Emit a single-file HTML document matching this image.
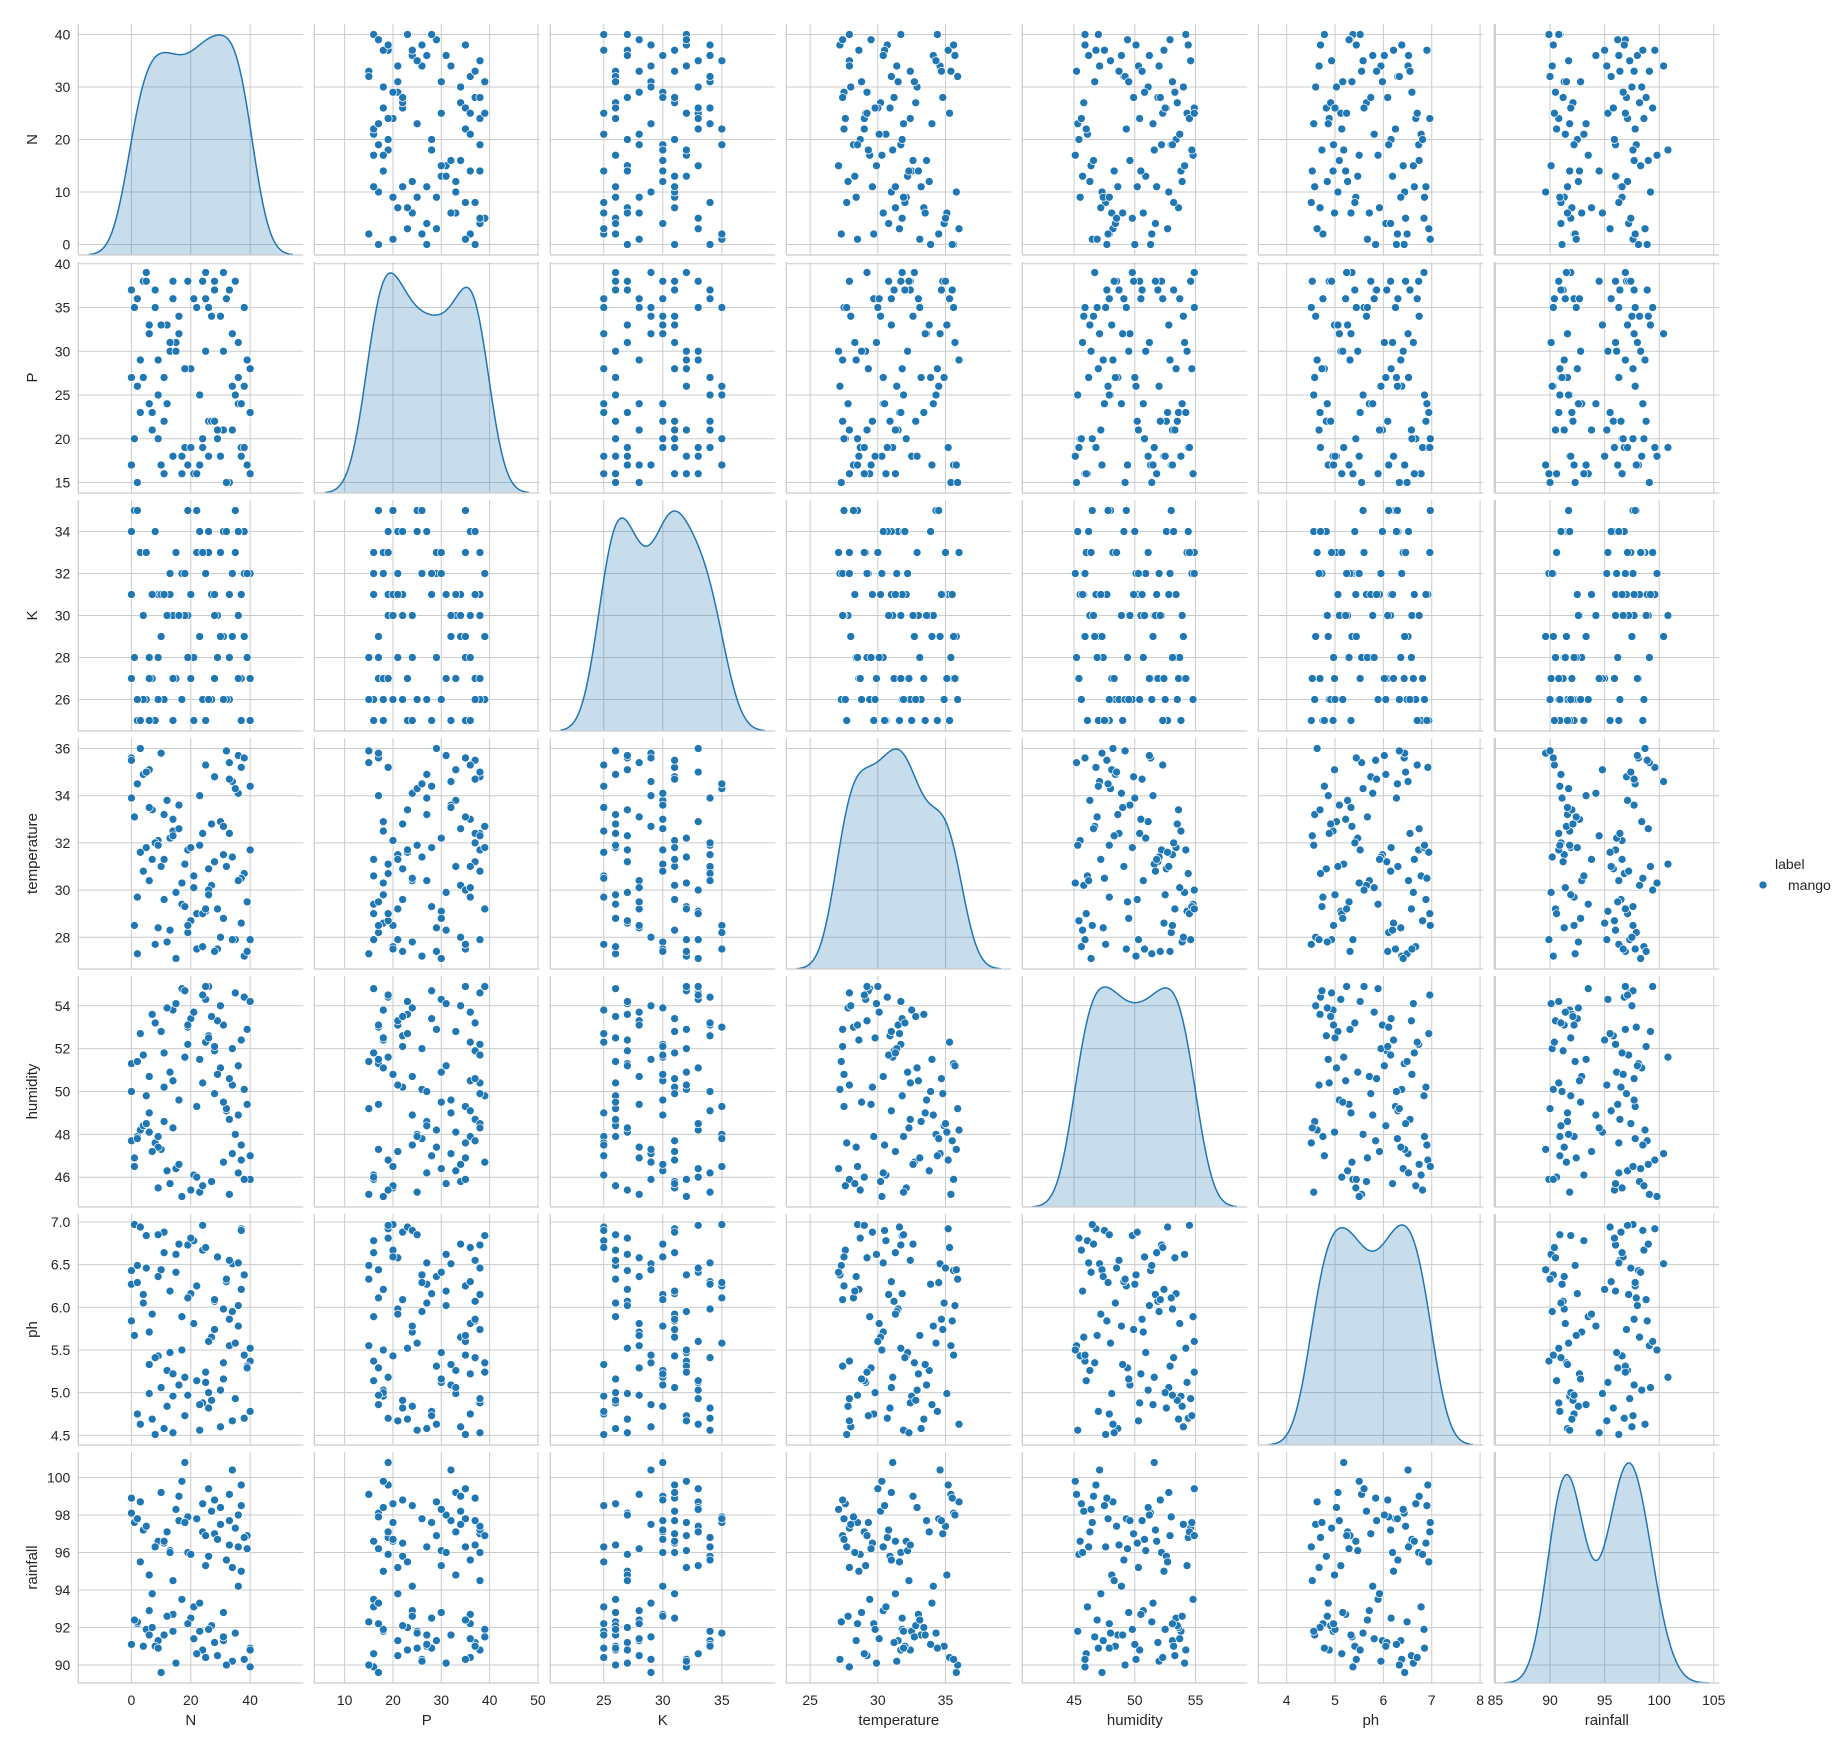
<!DOCTYPE html>
<html><head><meta charset="utf-8"><style>
html,body{margin:0;padding:0;background:#fff;}
svg{display:block;font-family:"Liberation Sans",Arial,sans-serif;}
</style></head><body>
<svg id="chart" width="1842" height="1750" viewBox="0 0 1842 1750" xmlns="http://www.w3.org/2000/svg">
<rect x="0" y="0" width="1842" height="1750" fill="#fff"/>
<g>
<text x="1775" y="869" font-size="14" fill="#262626">label</text>
<circle cx="1763" cy="885" r="4" fill="#1f77b4" stroke="#fff" stroke-width="0.7"/>
<text x="1788" y="890" font-size="14" fill="#262626">mango</text>
</g>
</svg>
<script>
const varNames = ["N","P","K","temperature","humidity","ph","rainfall"];
const nVals = [2,31,0,40,19,11,25,37,6,22,14,34,9,28,3,17,38,12,26,5,33,20,8,30,15,36,1,24,39,10,27,7,32,18,4,35,21,13,29,0,23,37,16,2,26,40,11,31,19,6,34,24,14,38,9,28,3,22,36,12,33,17,0,30,7,25,39,15,27,4,35,20,10,32,18,1,29,8,37,23,13,40,5,26,16,34,21,2,31,11,38,24,14,28,6,36,19,33,9,25];
const pVals = [36,21,17,16,38,27,30,19,24,35,18,32,20,37,29,16,26,33,22,39,15,28,35,18,31,24,20,38,29,17,34,23,36,19,27,38,16,30,21,37,25,18,32,15,35,28,22,39,17,33,26,20,36,19,29,38,23,16,31,24,37,18,27,34,21,36,17,30,22,38,25,19,33,15,28,35,20,37,24,17,31,23,38,18,34,21,36,26,30,16,35,19,38,22,32,27,17,37,25,39];
const kVals = [25,34,27,32,30,26,33,31,28,35,25,29,31,27,33,26,32,30,34,26,28,31,25,33,27,30,35,26,32,29,31,27,34,30,26,33,25,32,28,31,34,27,30,26,33,25,31,29,35,27,32,26,30,34,28,31,25,33,27,30,26,32,34,29,31,25,28,33,26,30,35,27,31,26,32,28,30,34,25,29,31,27,33,26,30,32,28,35,26,31,29,33,27,30,25,34,28,31,26,32];
const tempVals = [29.7,31.5,35.6,27.9,31.7,33.2,29.1,35.2,30.4,27.5,32.5,34.6,32.1,31.2,36.0,29.4,27.2,33.8,30.9,31.8,35.4,31.8,27.7,32.9,29.9,34.1,28.5,32.4,27.4,35.8,30.2,33.4,31.0,31.1,34.9,27.9,30.6,32.2,29.2,35.5,31.9,28.6,33.6,27.3,30.0,34.4,29.6,32.7,28.2,35.1,31.4,27.6,33.0,30.7,28.4,34.8,31.6,29.0,35.7,27.8,32.4,30.3,33.9,28.0,31.3,35.3,29.5,27.1,32.8,30.8,34.3,28.7,31.0,35.9,29.3,33.1,27.5,32.0,30.5,34.0,28.3,31.7,35.0,29.8,32.6,27.9,30.1,34.5,28.8,31.3,35.6,29.0,32.3,27.4,33.5,30.4,28.5,34.7,31.9,29.2];
const humVals = [47.9,53.1,51.3,45.9,52.2,48.6,54.3,46.8,50.7,49.3,53.8,47.1,45.5,51.9,48.2,54.8,50.1,46.3,52.6,49.8,45.2,53.4,47.6,51.1,54.1,48.9,46.5,50.4,52.9,47.3,45.8,53.6,49.1,51.6,48.4,54.6,46.1,50.9,53.3,47.7,45.3,52.4,49.6,51.4,54.9,47.0,50.2,46.7,53.0,48.1,52.0,45.6,50.5,54.4,47.4,49.9,52.7,46.0,51.2,53.9,48.7,45.1,50.0,54.0,47.2,52.3,49.4,46.4,53.5,51.7,48.0,45.4,52.8,49.2,54.7,46.9,50.8,53.2,47.5,51.5,45.7,54.2,48.5,52.5,46.6,50.3,53.7,47.8,49.5,51.8,45.9,54.5,48.3,52.1,49.0,46.2,53.1,50.6,47.9,54.9];
const phVals = [4.75,5.98,6.43,5.37,6.73,4.58,5.12,6.92,5.71,6.25,4.96,6.51,5.43,6.07,4.63,5.89,6.38,5.26,4.82,6.84,5.55,6.16,4.51,5.03,6.62,5.78,6.97,4.88,5.31,6.44,5.65,4.69,6.30,5.18,6.05,4.93,6.78,5.47,6.58,5.84,4.56,6.21,5.09,6.49,5.60,4.78,6.88,5.35,6.11,4.99,5.95,6.67,5.22,4.70,6.36,5.74,6.94,5.14,6.02,4.84,6.55,5.50,6.27,4.60,5.92,6.70,5.29,6.41,4.91,6.15,5.58,6.81,5.06,6.33,4.73,5.67,6.59,5.41,6.90,4.86,6.19,5.52,6.46,5.00,6.74,4.67,5.81,6.29,5.16,6.64,5.44,6.96,4.53,6.09,5.33,6.52,4.97,5.86,6.85,5.24];
const rainVals = [92.2,91.3,98.1,89.9,96.0,91.6,95.3,99.6,92.9,97.8,91.8,100.4,96.6,91.2,98.7,93.5,90.3,97.1,95.8,91.9,99.1,92.5,96.3,98.4,90.1,94.2,97.6,90.8,96.9,89.6,98.2,92.0,95.6,100.8,91.0,97.3,93.1,96.1,90.5,98.9,91.8,95.0,97.7,92.3,99.4,90.9,96.5,91.5,97.9,94.8,90.2,98.6,92.7,96.8,91.3,97.0,95.5,90.6,98.0,92.6,96.4,99.8,91.1,97.5,93.8,90.4,96.2,98.3,92.1,97.2,91.7,95.9,99.2,90.0,97.6,92.4,96.7,91.0,98.5,93.3,96.0,90.8,97.4,91.9,99.0,95.2,91.4,97.8,92.8,96.6,90.3,97.1,94.5,98.8,91.6,96.3,92.2,97.7,90.9,96.9];
const seriesList = [nVals,pVals,kVals,tempVals,humVals,phVals,rainVals];
const yTickLabels = [["0","10","20","30","40"],["15","20","25","30","35","40"],["26","28","30","32","34"],["28","30","32","34","36"],["46","48","50","52","54"],["4.5","5.0","5.5","6.0","6.5","7.0"],["90","92","94","96","98","100"]];
const xTickLabels = [["0","20","40"],["10","20","30","40","50"],["25","30","35"],["25","30","35"],["45","50","55"],["4","5","6","7","8"],["85","90","95","100","105"]];

const NS = "http://www.w3.org/2000/svg";
const svg = document.getElementById("chart");
const PL = 78.3, PT = 24, PW = 225, PH = 231, SX = 236, SY = 238;
const K = varNames.length;
function mk(tag, attrs, parent){ const e=document.createElementNS(NS,tag); for(const k in attrs) e.setAttribute(k,attrs[k]); (parent||svg).appendChild(e); return e; }
function stats(a){ const n=a.length; const m=a.reduce((s,v)=>s+v,0)/n; const sd=Math.sqrt(a.reduce((s,v)=>s+(v-m)*(v-m),0)/(n-1)); return {n,m,sd,min:Math.min(...a),max:Math.max(...a)}; }
const st = seriesList.map(stats);
const bws = st.map(s=>s.sd*Math.pow(s.n,-0.2));
const xLim = st.map((s,i)=>{ const lo=s.min-3*bws[i], hi=s.max+3*bws[i], r=hi-lo; return [lo-0.05*r, hi+0.05*r]; });
const yLim = st.map(s=>{ const r=s.max-s.min; return [s.min-0.05*r, s.max+0.05*r]; });
function xScale(j,v){ return PL+j*SX+(v-xLim[j][0])/(xLim[j][1]-xLim[j][0])*PW; }
function yScale(i,v){ return PT+i*SY+PH-(v-yLim[i][0])/(yLim[i][1]-yLim[i][0])*PH; }
const gridC="#cccccc", txtC="#262626";

for(let i=0;i<K;i++){
  for(let j=0;j<K;j++){
    const x0=PL+j*SX, y0=PT+i*SY;
    const g=mk("g",{});
    
    
    xTickLabels[j].forEach(t=>{ const x=xScale(j,parseFloat(t)); if(x<x0-0.5||x>x0+PW+0.5) return;
      const l=mk("line",{x1:x,x2:x,y1:y0,y2:y0+PH,stroke:gridC,"stroke-width":1},g);
      
       });
    yTickLabels[i].forEach(t=>{ const y=yScale(i,parseFloat(t));
      const l=mk("line",{x1:x0,x2:x0+PW,y1:y,y2:y,stroke:gridC,"stroke-width":1},g);
      
       });
    if(i===j){
      const d=seriesList[j], bw=bws[j], lo=st[j].min-3*bw, hi=st[j].max+3*bw, N=200, pts=[];
      let mx=0;
      for(let k=0;k<=N;k++){ const xv=lo+(hi-lo)*k/N; let s=0; for(const v of d){ const z=(xv-v)/bw; s+=Math.exp(-0.5*z*z);} s/=d.length*bw*Math.sqrt(2*Math.PI); pts.push([xv,s]); if(s>mx) mx=s; }
      const ymax=mx*1.05;
      const py=v=>y0+PH-v/ymax*PH;
      let p="M"+xScale(j,pts[0][0]).toFixed(2)+","+py(0).toFixed(2);
      pts.forEach(q=>{ p+=" L"+xScale(j,q[0]).toFixed(2)+","+py(q[1]).toFixed(2); });
      const fp=p+" L"+xScale(j,pts[N][0]).toFixed(2)+","+py(0).toFixed(2)+" Z";
      const f=mk("path",{d:fp,fill:"#1f77b4","fill-opacity":0.25,stroke:"none"},g);
      
      
      let lp="M"+pts.map(q=>xScale(j,q[0]).toFixed(2)+","+py(q[1]).toFixed(2)).join(" L");
      const ln=mk("path",{d:lp,fill:"none",stroke:"#1f77b4","stroke-width":1.5},g);
      
      
    } else {
      const xs=seriesList[j], ys=seriesList[i];
      for(let k=0;k<xs.length;k++){
        const c=mk("circle",{cx:xScale(j,xs[k]).toFixed(2),cy:yScale(i,ys[k]).toFixed(2),r:4,fill:"#1f77b4",stroke:"#fff","stroke-width":0.7},g);
        
        
      }
    }
    const sl=mk("line",{x1:x0,x2:x0,y1:y0,y2:y0+PH,stroke:gridC,"stroke-width":1.2},g);
    
    
    const sb=mk("line",{x1:x0,x2:x0+PW,y1:y0+PH,y2:y0+PH,stroke:gridC,"stroke-width":1.2},g);
    
    
  }
}
for(let i=0;i<K;i++){
  yTickLabels[i].forEach(t=>{
    const tx=mk("text",{x:PL-8,y:yScale(i,parseFloat(t))+5,"text-anchor":"end","font-size":14,fill:txtC});
    tx.textContent=t;
    
    
  });
  const cy=PT+i*SY+PH/2;
  const lab=mk("text",{x:0,y:0,transform:"translate(37,"+cy+") rotate(-90)","text-anchor":"middle","font-size":15,fill:txtC});
  lab.textContent=varNames[i];
  
  
}
const by=PT+(K-1)*SY+PH;
for(let j=0;j<K;j++){
  xTickLabels[j].forEach(t=>{
    const tx=mk("text",{x:xScale(j,parseFloat(t)),y:by+22,"text-anchor":"middle","font-size":14,fill:txtC});
    tx.textContent=t;
    
    
  });
  const lab=mk("text",{x:PL+j*SX+PW/2,y:by+42,"text-anchor":"middle","font-size":15,fill:txtC});
  lab.textContent=varNames[j];
  
  
}
</script>
</body></html>
